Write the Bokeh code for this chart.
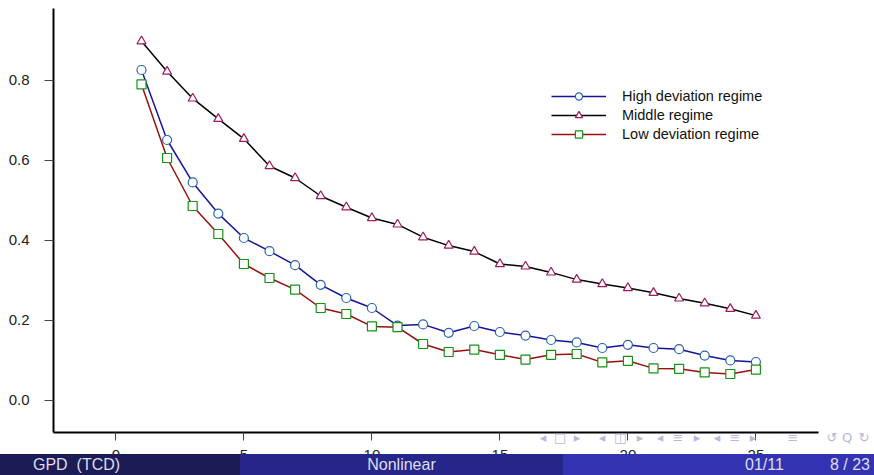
from bokeh.plotting import figure
from bokeh.layouts import column
from bokeh.models import Range1d, FixedTicker, Legend, LegendItem, Div
from bokeh.embed import file_html
from bokeh.resources import INLINE

# ---- data ----
lags = list(range(1, 26))
high_dev = [0.825, 0.650, 0.544, 0.466, 0.405, 0.372, 0.337, 0.288, 0.255, 0.230,
            0.186, 0.189, 0.168, 0.185, 0.170, 0.161, 0.150, 0.144, 0.130, 0.138,
            0.130, 0.127, 0.111, 0.099, 0.095]
middle = [0.897, 0.821, 0.754, 0.703, 0.653, 0.585, 0.555, 0.510, 0.482, 0.455,
          0.439, 0.407, 0.386, 0.371, 0.340, 0.334, 0.319, 0.301, 0.290, 0.280,
          0.268, 0.254, 0.242, 0.228, 0.211]
low_dev = [0.789, 0.605, 0.485, 0.415, 0.340, 0.305, 0.276, 0.230, 0.215, 0.184,
           0.182, 0.140, 0.120, 0.126, 0.113, 0.101, 0.113, 0.115, 0.094, 0.098,
           0.079, 0.078, 0.069, 0.065, 0.076]
series_names = ["High deviation regime", "Middle regime", "Low deviation regime"]
x_ticks = [0, 5, 10, 15, 20, 25]
y_ticks = [0.0, 0.2, 0.4, 0.6, 0.8]
y_tick_labels = ["0.0", "0.2", "0.4", "0.6", "0.8"]

# slide footer (beamer style)
footer_left = "GPD&nbsp;&nbsp;(TCD)"
footer_mid = "Nonlinear"
footer_date = "01/11"
footer_page = "8&nbsp;/&nbsp;23"
footer_colors = ["#1b1b55", "#26268a", "#3333b2"]
nav_symbols = ["◂", "□", "▸", "◂", "◫", "▸", "◂", "≡", "▸", "◂", "≡", "▸", "≡", "↺", "Q", "↻"]
nav_pos = [543, 560, 577, 602, 620, 640, 660, 678, 697, 717, 735, 753, 793, 832, 847, 864]

W, H = 874, 475

p = figure(width=W, height=H, output_backend="svg", toolbar_location=None,
           x_range=Range1d(-2.4375, 27.4453), y_range=Range1d(-0.08125, 0.97875),
           min_border_left=53, min_border_right=56, min_border_top=8, min_border_bottom=43)
p.outline_line_color = None
p.xgrid.visible = False
p.ygrid.visible = False

for ax in (p.xaxis[0], p.yaxis[0]):
    ax.axis_line_width = 2
    ax.axis_line_color = "black"
    ax.major_tick_line_color = "#444444"
    ax.major_tick_line_width = 1
    ax.major_tick_in = 0
    ax.minor_tick_line_color = None
    ax.major_label_text_font = "Liberation Sans"
    ax.major_label_text_font_size = "15px"
    ax.major_label_text_color = "#222222"

p.yaxis.ticker = FixedTicker(ticks=y_ticks)
p.yaxis.major_label_overrides = {t: l for t, l in zip(y_ticks, y_tick_labels)}
p.yaxis.major_tick_out = 9
p.yaxis.major_label_standoff = 15
p.xaxis.ticker = FixedTicker(ticks=x_ticks)
p.xaxis.major_tick_out = 8
p.xaxis.major_label_standoff = 9

l1 = p.line(lags, high_dev, line_color="#14149a", line_width=1.5)
s1 = p.scatter(lags, high_dev, marker="circle", size=9, fill_color="white",
               line_color="#2a62b0", line_width=1.2)
l2 = p.line(lags, middle, line_color="black", line_width=1.5)
s2 = p.scatter(lags, middle, marker="triangle", size=9, fill_color="white",
               line_color="#9c1c5c", line_width=1.2)
l3 = p.line(lags, low_dev, line_color="#981010", line_width=1.5)
s3 = p.scatter(lags, low_dev, marker="square", size=9, fill_color="white",
               line_color="#169216", line_width=1.2)

legend = Legend(items=[LegendItem(label=series_names[0], renderers=[l1, s1]),
                       LegendItem(label=series_names[1], renderers=[l2, s2]),
                       LegendItem(label=series_names[2], renderers=[l3, s3])],
                location=(498, 289), padding=0, margin=0, spacing=1,
                glyph_width=55, glyph_height=18, label_height=18, label_standoff=16,
                border_line_color=None, background_fill_alpha=0)
legend.label_text_font = "Liberation Sans"
legend.label_text_font_size = "14.5px"
legend.label_text_color = "#111111"
p.add_layout(legend)

# ---- footer strip (HTML), overlapping the bottom of the figure ----
FH = 44
nav_html = "".join(
    f'<span style="position:absolute;left:{x - 6}px;top:0;width:12px;text-align:center;">{s}</span>'
    for s, x in zip(nav_symbols, nav_pos))
bar = ("position:absolute;top:23px;height:21px;line-height:21px;color:#dedeee;"
       "font-family:'Liberation Sans';font-size:16px;white-space:nowrap;")
footer_html = (
    f'<div style="position:relative;width:{W}px;height:{FH}px;overflow:hidden;">'
    f'<div style="position:absolute;left:0;top:0;width:{W}px;height:14px;line-height:14px;'
    f'font-family:\'DejaVu Sans\';font-size:13px;color:#b8b8de;">{nav_html}</div>'
    f'<div style="{bar}left:0;width:240px;background:{footer_colors[0]};">'
    f'<span style="position:absolute;left:33px;">{footer_left}</span></div>'
    f'<div style="{bar}left:240px;width:323px;background:{footer_colors[1]};text-align:center;">'
    f'{footer_mid}</div>'
    f'<div style="{bar}left:563px;width:{W - 563}px;background:{footer_colors[2]};">'
    f'<span style="position:absolute;left:182px;">{footer_date}</span>'
    f'<span style="position:absolute;right:4px;">{footer_page}</span></div>'
    f'</div>')
footer = Div(text=footer_html, width=W, height=FH, margin=0,
             styles={"margin-top": f"-{FH}px", "margin-left": "0px", "padding": "0"})

layout = column(p, footer, spacing=0)
open("out.html", "w").write(file_html(layout, INLINE))
